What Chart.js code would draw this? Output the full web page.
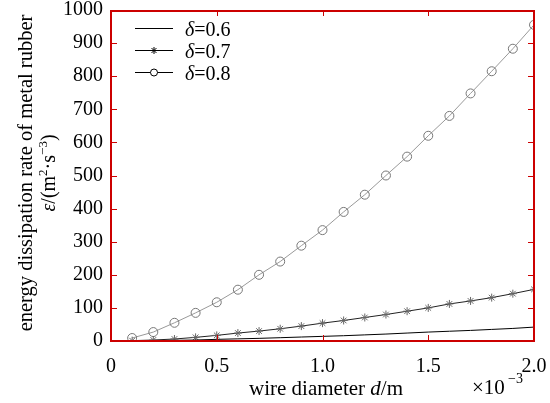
<!DOCTYPE html>
<html>
<head>
<meta charset="utf-8">
<script src="https://cdn.jsdelivr.net/npm/chart.js@4.4.0/dist/chart.umd.min.js"></script>
</head>
<body style="margin:0; background:#fff">
<canvas id="c" width="550" height="403"></canvas>
<script>
// wire diameter, in units of 1e-3 m
const diameters = [0.1, 0.2, 0.3, 0.4, 0.5, 0.6, 0.7, 0.8, 0.9, 1.0,
                   1.1, 1.2, 1.3, 1.4, 1.5, 1.6, 1.7, 1.8, 1.9, 2.0];
const delta06 = [0.3, 1, 2, 3, 5, 6.5, 8, 10, 12, 14,
                 16, 18.5, 21, 24, 27, 29.5, 32, 35, 38, 42];
const delta07 = [1, 3, 6, 11, 17, 24, 30, 37, 45, 54,
                 62, 71, 80, 90, 100, 112, 121, 131, 143, 156];
const delta08 = [9, 27, 55, 85, 117, 155, 200, 240, 288, 335,
                 390, 442, 500, 557, 620, 680, 748, 815, 883, 955];
const seriesNames = ['δ=0.6', 'δ=0.7', 'δ=0.8'];
const xTicks = [0, 0.5, 1.0, 1.5, 2.0];
const yTicks = [0, 100, 200, 300, 400, 500, 600, 700, 800, 900, 1000];

const SERIF = '"Liberation Serif", "DejaVu Serif", serif';
const FRAME = '#c00';
const pts = arr => arr.map((v, i) => ({ x: diameters[i], y: v }));

// axis titles, legend, then the box with inward ticks
const decor = {
  id: 'decor',
  afterDraw(chart) {
    const ctx = chart.ctx;
    const a = chart.chartArea;
    ctx.save();
    ctx.fillStyle = '#000';
    ctx.textBaseline = 'alphabetic';
    ctx.textAlign = 'left';
    // x title
    const s1 = 'wire diameter ', s2 = '/m';
    ctx.font = '21px ' + SERIF;
    const w1 = ctx.measureText(s1).width;
    ctx.font = 'italic 21px ' + SERIF;
    const wd = ctx.measureText('d').width;
    ctx.font = '21px ' + SERIF;
    const w2 = ctx.measureText(s2).width;
    const sx = 326 - (w1 + wd + w2) / 2;
    ctx.fillText(s1, sx, 395);
    ctx.font = 'italic 21px ' + SERIF;
    ctx.fillText('d', sx + w1, 395);
    ctx.font = '21px ' + SERIF;
    ctx.fillText(s2, sx + w1 + wd, 395);
    ctx.fillText('×10', 472, 394);
    ctx.font = '14px ' + SERIF;
    ctx.fillText('−3', 508, 383);

    // y title, two rotated lines
    ctx.save();
    ctx.translate(32, 173);
    ctx.rotate(-Math.PI / 2);
    ctx.textAlign = 'center';
    ctx.font = '20.5px ' + SERIF;
    ctx.fillText('energy dissipation rate of metal rubber', 0, 0);
    ctx.textAlign = 'left';
    const parts = [['ε', 'italic 20px', 0], ['/(m', '20px', 0], ['2', '13px', -8],
                   ['·s', '20px', 0], ['−3', '13px', -8], [')', '20px', 0]];
    let tw = 0;
    parts.forEach(p => { ctx.font = p[1] + ' ' + SERIF; tw += ctx.measureText(p[0]).width; });
    let cx = -tw / 2;
    parts.forEach(p => {
      ctx.font = p[1] + ' ' + SERIF;
      ctx.fillText(p[0], cx, 23 + p[2]);
      cx += ctx.measureText(p[0]).width;
    });
    ctx.restore();

    // legend, top left inside the box
    const rows = [28, 50, 72];
    chart.data.datasets.forEach((ds, i) => {
      const ly = rows[i] + 0.5;
      ctx.strokeStyle = '#000';
      ctx.lineWidth = 1;
      ctx.beginPath(); ctx.moveTo(135, ly); ctx.lineTo(173, ly); ctx.stroke();
      if (i === 1) {
        Chart.helpers.drawPoint(ctx, { pointStyle: 'star', radius: 3.5, rotation: 0, borderWidth: 1 }, 154, ly);
      } else if (i === 2) {
        ctx.beginPath(); ctx.arc(154, ly, 3.5, 0, Math.PI * 2);
        ctx.fillStyle = '#fff'; ctx.fill(); ctx.stroke();
      }
      ctx.fillStyle = '#000';
      ctx.font = 'italic 20px ' + SERIF;
      ctx.fillText('δ', 185, ly + 7);
      const wdl = ctx.measureText('δ').width;
      ctx.font = '20px ' + SERIF;
      ctx.fillText(ds.label.slice(1), 185 + wdl, ly + 7);
    });

    // box and inward ticks as filled strips
    ctx.fillStyle = FRAME;
    const L = Math.round(a.left), R = Math.round(a.right), T = Math.round(a.top), B = Math.round(a.bottom);
    ctx.fillRect(L, T, R - L, 2);
    ctx.fillRect(L, B - 1, R - L, 2);
    ctx.fillRect(L - 1, T, 2, B - T + 1);
    ctx.fillRect(R - 1, T, 2, B - T + 1);
    xTicks.forEach(t => {
      const px = Math.round(chart.scales.x.getPixelForValue(t));
      ctx.fillRect(px, B - 6, 1, 6);
      ctx.fillRect(px, T, 1, 6);
    });
    yTicks.forEach(t => {
      const py = Math.round(chart.scales.y.getPixelForValue(t));
      ctx.fillRect(L, py, 6, 1);
      ctx.fillRect(R - 6, py, 6, 1);
    });
    ctx.restore();
  }
};

new Chart(document.getElementById('c'), {
  type: 'line',
  data: {
    datasets: [
      { label: seriesNames[0], data: pts(delta06), borderColor: '#000', borderWidth: 1,
        pointRadius: 0, tension: 0 },
      { label: seriesNames[1], data: pts(delta07), borderColor: '#222', borderWidth: 1,
        pointStyle: 'star', pointRadius: 4, pointBorderColor: '#666', pointBorderWidth: 1, tension: 0 },
      { label: seriesNames[2], data: pts(delta08), borderColor: '#999', borderWidth: 1,
        pointStyle: 'circle', pointRadius: 4.5, pointBorderColor: '#777',
        pointBackgroundColor: 'rgba(255,255,255,0)', pointBorderWidth: 1, tension: 0 }
    ]
  },
  options: {
    responsive: false,
    animation: false,
    layout: { padding: { left: 0, top: 10, right: 16, bottom: 0 } },
    plugins: { legend: { display: false }, tooltip: { enabled: false } },
    scales: {
      x: {
        type: 'linear', min: 0, max: 2.0,
        afterFit(s) { s.height = 62; s.paddingLeft = 0; s.paddingRight = 0; },
        afterBuildTicks(s) { s.ticks = xTicks.map(v => ({ value: v })); },
        grid: { display: false, drawTicks: false },
        border: { display: false },
        ticks: {
          padding: 14, color: '#000', maxRotation: 0,
          font: { family: SERIF, size: 20 },
          callback: v => v === 0 ? '0' : v.toFixed(1)
        }
      },
      y: {
        min: 0, max: 1000,
        afterFit(s) { s.width = 111; s.paddingTop = 0; s.paddingBottom = 0; },
        afterBuildTicks(s) { s.ticks = yTicks.map(v => ({ value: v })); },
        grid: { display: false, drawTicks: false },
        border: { display: false },
        ticks: {
          padding: 8, color: '#000',
          font: { family: SERIF, size: 20 },
          callback: v => String(v)
        }
      }
    }
  },
  plugins: [decor]
});
</script>
</body>
</html>
